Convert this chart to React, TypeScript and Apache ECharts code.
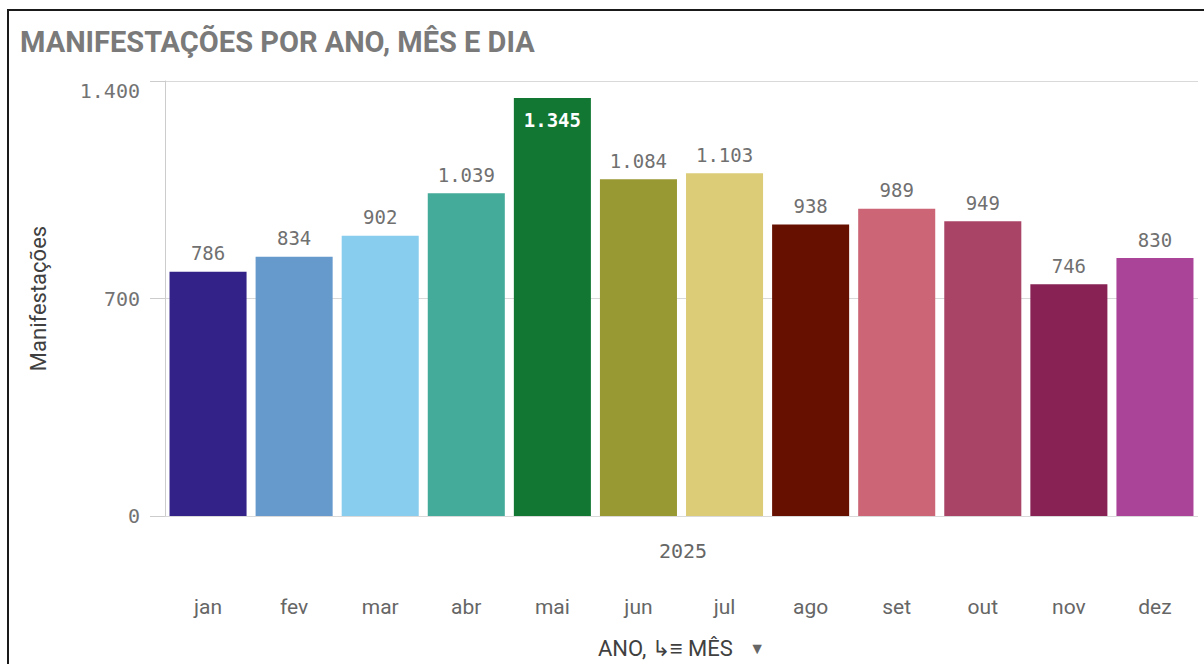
import React, { useEffect, useRef } from "react";
import * as echarts from "echarts";

const months = ["jan", "fev", "mar", "abr", "mai", "jun", "jul", "ago", "set", "out", "nov", "dez"];
const values = [786, 834, 902, 1039, 1345, 1084, 1103, 938, 989, 949, 746, 830];
const barColors = ["#332288", "#6699cc", "#88ccee", "#44aa99", "#117733", "#999933", "#ddcc77", "#661100", "#cc6677", "#aa4466", "#882255", "#aa4499"];
const yTicks = [0, 700, 1400];
const yearLabel = "2025";
const titleText = "MANIFESTAÇÕES POR ANO, MÊS E DIA";
const yAxisTitle = "Manifestações";

const fmt = (v: number) => String(v).replace(/\B(?=(\d{3})+(?!\d))/g, ".");

export default function App() {
  const ref = useRef<HTMLDivElement>(null);
  useEffect(() => {
    const chart = echarts.init(ref.current!, null, { renderer: "svg" });
    const mono = "'DejaVu Sans Mono', monospace";
    const sans = "Roboto, sans-serif";
    const yMax = yTicks[yTicks.length - 1];
    chart.setOption({
      animation: false,
      backgroundColor: "#ffffff",
      grid: { left: 165, right: 6, top: 81, bottom: 145, containLabel: false },
      graphic: [
        {
          type: "rect",
          shape: { x: 8, y: 10, width: 1400, height: 800 },
          style: { fill: "none", stroke: "#1a1a1a", lineWidth: 2 },
          silent: true,
        },
        {
          type: "text",
          x: 20,
          y: 42,
          style: {
            text: titleText,
            font: `bold 29px ${sans}`,
            fill: "#7a7a7a",
            verticalAlign: "middle",
          },
        },
        {
          type: "text",
          x: 683,
          y: 551,
          style: {
            text: yearLabel,
            font: `20px ${mono}`,
            fill: "#666666",
            align: "center",
            verticalAlign: "middle",
          },
        },
      ],
      xAxis: {
        type: "category",
        data: months,
        axisLine: { show: false },
        axisTick: { show: false },
        axisLabel: { margin: 80, fontFamily: sans, fontSize: 21, color: "#666666" },
        name: "ANO, ↳≡ MÊS   {a|▼}",
        nameLocation: "middle",
        nameGap: 121,
        nameTextStyle: {
          fontFamily: sans,
          fontSize: 22,
          color: "#404040",
          verticalAlign: "top",
          rich: { a: { fontSize: 16, color: "#666666", fontFamily: sans } },
        },
      },
      yAxis: {
        type: "value",
        min: 0,
        max: yMax,
        interval: yTicks[1] - yTicks[0],
        axisLine: { show: true, lineStyle: { color: "#cccccc", width: 1 } },
        axisTick: { show: true, length: 15, lineStyle: { color: "#cccccc" } },
        splitLine: { show: true, lineStyle: { color: "#d9d9d9", width: 1 } },
        axisLabel: {
          margin: 25,
          fontFamily: mono,
          fontSize: 20,
          color: "#737373",
          formatter: (v: number) => fmt(v),
          verticalAlignMaxLabel: "top",
        },
        name: yAxisTitle,
        nameLocation: "middle",
        nameGap: 116,
        nameRotate: 90,
        nameTextStyle: { fontFamily: sans, fontSize: 22, color: "#404040" },
      },
      series: [
        {
          type: "bar",
          barCategoryGap: "10.5%",
          data: values.map((v, i) => {
            const inside = v / yMax > 0.93;
            return {
              value: v,
              itemStyle: { color: barColors[i] },
              label: inside
                ? { position: "insideTop", distance: 12, color: "#ffffff", fontWeight: "bold" }
                : undefined,
            };
          }),
          label: {
            show: true,
            position: "top",
            distance: 9,
            fontFamily: mono,
            fontSize: 19,
            color: "#707070",
            formatter: (p: any) => fmt(p.value),
          },
        },
      ],
    });
    return () => chart.dispose();
  }, []);
  return (
    <div
      ref={ref}
      style={{ position: "fixed", left: 0, top: 0, width: 1204, height: 664 }}
    />
  );
}
